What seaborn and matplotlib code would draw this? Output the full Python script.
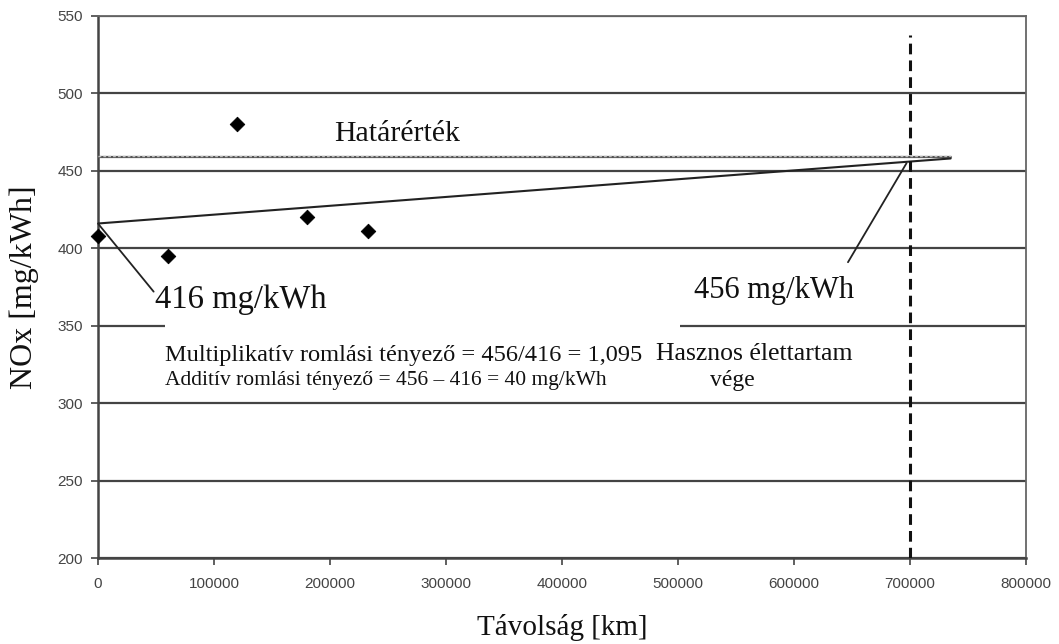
import matplotlib
matplotlib.use("Agg")
import matplotlib.pyplot as plt
import seaborn as sns
import pandas as pd
from matplotlib.patches import Rectangle

# ---- data ----
distance_km = [0, 60000, 120000, 180000, 233000]
nox = [408, 395, 480, 420, 411]
trend_x = [0, 735000]
trend_y = [416, 458]
limit_value = 459
limit_x = [0, 735000]
life_end_km = 700000
start_val = 416
end_val = 456
xticks = [0, 100000, 200000, 300000, 400000, 500000, 600000, 700000, 800000]
yticks = [200, 250, 300, 350, 400, 450, 500, 550]

sns.set_theme(style="white")
plt.rcParams['font.family'] = ['Liberation Serif', 'DejaVu Serif']

fig = plt.figure(figsize=(10.59, 6.44), dpi=100)
ax = fig.add_axes([0.0925, 0.1335, 0.8764, 0.8417])

for yv in yticks:
    ax.axhline(yv, color='#444444', lw=1.6, zorder=1)

# white box over grid behind the factor text
ax.add_patch(Rectangle((57700, 340), 444000, 20, facecolor='white',
                       edgecolor='none', zorder=2))

# limit line
df_lim = pd.DataFrame({'x': limit_x, 'y': [limit_value] * 2})
sns.lineplot(data=df_lim, x='x', y='y', ax=ax, color='#555555', lw=1.6, zorder=3)
ax.plot(limit_x, [limit_value + 0.6] * 2, color='#bbbbbb', lw=1.0,
        dashes=(2, 1.5), zorder=3)

# trend line
df_tr = pd.DataFrame({'x': trend_x, 'y': trend_y})
sns.lineplot(data=df_tr, x='x', y='y', ax=ax, color='#222222', lw=1.5, zorder=4)

# end of useful life
ax.plot([life_end_km, life_end_km], [200, 538], color='#111111', lw=2.2,
        dashes=(3.5, 2), zorder=4)

# data points
df = pd.DataFrame({'x': distance_km, 'y': nox})
sns.scatterplot(data=df, x='x', y='y', ax=ax, marker='D', s=55, color='black',
                edgecolor='black', zorder=5, clip_on=False)

# annotations
leader = dict(arrowstyle='-', color='#222222', lw=1.3, shrinkA=0, shrinkB=0)
ax.annotate('', xy=(0, start_val), xytext=(48000, 372), arrowprops=leader, zorder=6)
ax.annotate('', xy=(life_end_km - 3000, end_val - 1), xytext=(646500, 391),
            arrowprops=leader, zorder=6)
ax.text(49000, 366.5, f'{start_val} mg/kWh', fontsize=23.5, color='#111111',
        va='center', ha='left', zorder=6)
ax.text(514000, 373, f'{end_val} mg/kWh', fontsize=22, color='#111111',
        va='center', ha='left', zorder=6)
ax.text(204000, 474, 'Határérték', fontsize=21.5, color='#111111', va='center', zorder=6)
ax.text(58000, 331, 'Multiplikatív romlási tényező = 456/416 = 1,095',
        fontsize=17.6, color='#111111', va='center', zorder=6)
ax.text(58000, 314.5, 'Additív romlási tényező = 456 – 416 = 40 mg/kWh',
        fontsize=15.5, color='#111111', va='center', zorder=6)
ax.text(481000, 332, 'Hasznos élettartam', fontsize=18.5, color='#111111',
        va='center', zorder=6)
ax.text(527500, 314.5, 'vége', fontsize=17, color='#111111', va='center', zorder=6)

ax.set_xlim(0, 800000)
ax.set_ylim(200, 550)
ax.set_xticks(xticks)
ax.set_yticks(yticks)
ax.set_xticklabels([str(v) for v in xticks], fontfamily='Liberation Sans',
                   fontsize=11, color='#444444')
ax.set_yticklabels([str(v) for v in yticks], fontfamily='Liberation Sans',
                   fontsize=11, color='#444444')
ax.tick_params(axis='both', which='both', direction='out', length=5, width=1.2,
               color='#444444', bottom=True, left=True)
ax.tick_params(axis='x', pad=9)
ax.tick_params(axis='y', pad=6)
ax.set_xlabel('Távolság [km]', fontsize=21, color='#111111', labelpad=16)
ax.set_ylabel('NOx [mg/kWh]', fontsize=23, color='#111111', labelpad=13)

for side in ['left', 'bottom']:
    ax.spines[side].set_color('#444444')
    ax.spines[side].set_linewidth(1.8)
for side in ['top', 'right']:
    ax.spines[side].set_color('#666666')
    ax.spines[side].set_linewidth(1.3)
    ax.spines[side].set_visible(True)

fig.savefig('out.png', dpi=100, facecolor='white')
